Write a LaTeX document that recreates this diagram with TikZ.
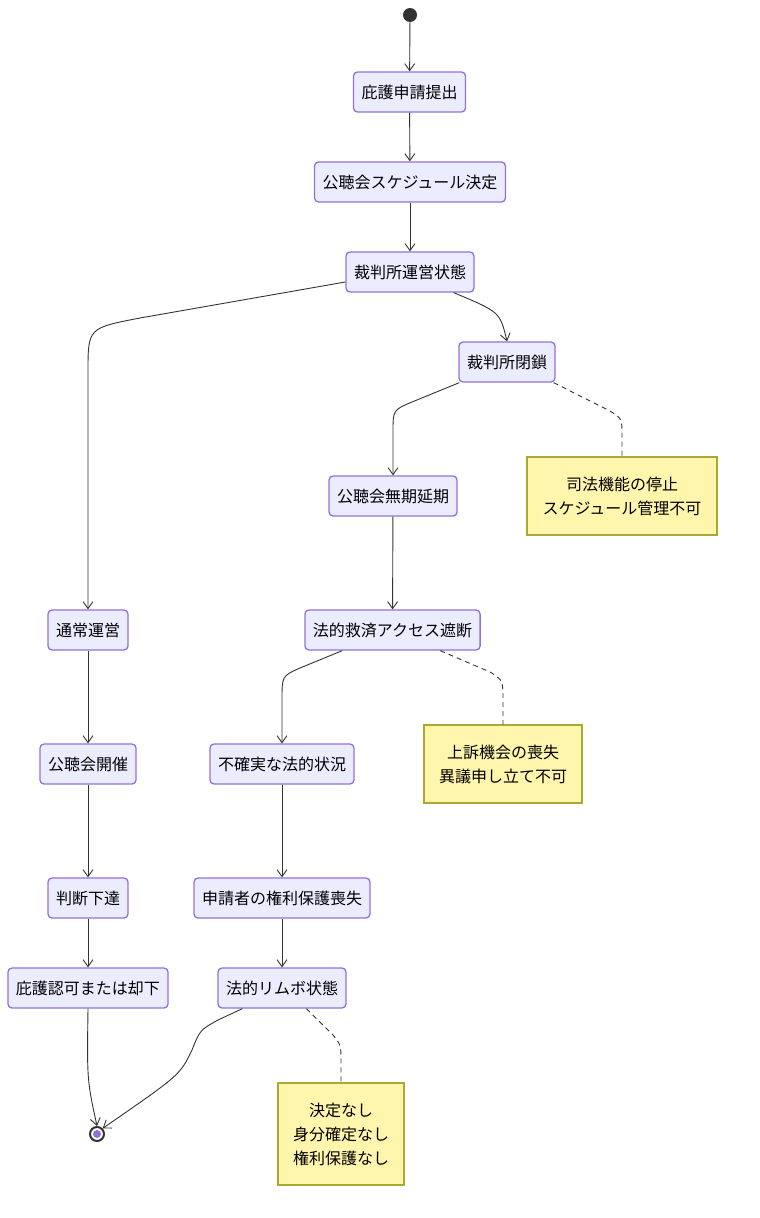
\documentclass[tikz,border=0pt]{standalone}
\usepackage{fontspec}
\setmainfont{Noto Sans CJK JP}
\usepackage{xcolor}
\usepackage{tikz}
\usetikzlibrary{arrows.meta,positioning,calc}
\definecolor{boxfill}{HTML}{ECECFF}
\definecolor{boxline}{HTML}{9370DB}
\definecolor{notefill}{HTML}{FFF5AD}
\definecolor{noteline}{HTML}{AAAA33}
\definecolor{edgeline}{HTML}{333333}

\begin{document}
\begin{tikzpicture}[x=1pt,y=-1pt,
    state/.style={draw=boxline,fill=boxfill,line width=1.3pt,rounded corners=4pt,minimum height=40pt,inner xsep=8pt,font=\fontsize{16}{19}\selectfont,text=black},
    note/.style={draw=noteline,fill=notefill,line width=1.3pt,align=center,font=\fontsize{16}{24}\selectfont,text=black,inner sep=0pt},
    trans/.style={draw=edgeline,line width=0.9pt,-{Straight Barb[length=7pt,width=10pt]}},
    link/.style={draw=edgeline,line width=0.9pt,dashed,dash pattern=on 5pt off 4pt}]
\useasboundingbox (0,0) rectangle (760,1218);

    % start and end
    \node[circle,fill=edgeline,minimum size=14pt,inner sep=0pt] (start) at (410,15) {};
    \node[circle,draw=edgeline,fill=white,line width=2pt,minimum size=14pt,inner sep=0pt] (stop) at (97,1134) {};
    \fill[boxline] (stop.center) circle (4pt);

    % main states
    \node[state] (apply) at (409.5,92) {庇護申請提出};
    \node[state] (sched) at (410,182) {公聴会スケジュール決定};
    \node[state] (court) at (410,272) {裁判所運営状態};
    \node[state] (closed) at (507,362) {裁判所閉鎖};
    \node[state] (postpone) at (393,496) {公聴会無期延期};
    \node[state] (blocked) at (392.5,630) {法的救済アクセス遮断};
    \node[state] (uncertain) at (282,764) {不確実な法的状況};
    \node[state] (lost) at (282,898) {申請者の権利保護喪失};
    \node[state] (limbo) at (282,988) {法的リムボ状態};

    % normal branch
    \node[state] (normal) at (88,630) {通常運営};
    \node[state] (hearing) at (88,764) {公聴会開催};
    \node[state] (ruling) at (88,898) {判断下達};
    \node[state] (verdict) at (88,988) {庇護認可または却下};

    % notes
    \node[note,minimum width=190pt,minimum height=78pt] (noteA) at (622,496) {司法機能の停止\\スケジュール管理不可};
    \node[note,minimum width=158pt,minimum height=78pt] (noteB) at (503,764) {上訴機会の喪失\\異議申し立て不可};
    \node[note,minimum width=126pt,minimum height=102pt] (noteC) at (341,1134) {決定なし\\身分確定なし\\権利保護なし};

    % transitions
    \draw[trans] ($(court.west)+(0,10)$) -- (140,318) .. controls (88,328) .. (88,372) -- (normal.north);
    \draw[trans] (start) -- (apply);
    \draw[trans] (apply) -- (sched);
    \draw[trans] (sched) -- (court);
    \draw[trans] ($(court.south east)+(-21,0)$) .. controls (500,312) .. (closed.north);
    \draw[trans] ($(closed.south west)+(1,0)$) -- (412,402) .. controls (393,410) .. (393,432) -- (postpone.north);
    \draw[trans] (postpone) -- (blocked);
    \draw[trans] ($(blocked.south west)+(38,0)$) -- (300,668) .. controls (282,676) .. (282,700) -- (uncertain.north);
    \draw[trans] (uncertain) -- (lost);
    \draw[trans] (lost) -- (limbo);
    \draw[trans] (normal) -- (hearing);
    \draw[trans] (hearing) -- (ruling);
    \draw[trans] (ruling) -- (verdict);
    \draw[trans] (verdict.south) .. controls (87,1080) .. (stop.north);
    \draw[trans] ($(limbo.south west)+(25,0)$) -- (218,1020) .. controls (200,1030) .. (192,1050) .. controls (180,1075) .. (stop.north east);

    % note links
    \draw[link] ($(closed.south east)+(-2,0)$) -- (608,410) .. controls (622,418) .. (622,436) -- (noteA.north);
    \draw[link] ($(blocked.south west)+(136,0)$) -- (490,672) .. controls (503,680) .. (503,702) -- (noteB.north);
    \draw[link] ($(limbo.south west)+(89,0)$) -- (333,1035) .. controls (341,1045) .. (341,1062) -- (noteC.north);
\end{tikzpicture}
\end{document}
